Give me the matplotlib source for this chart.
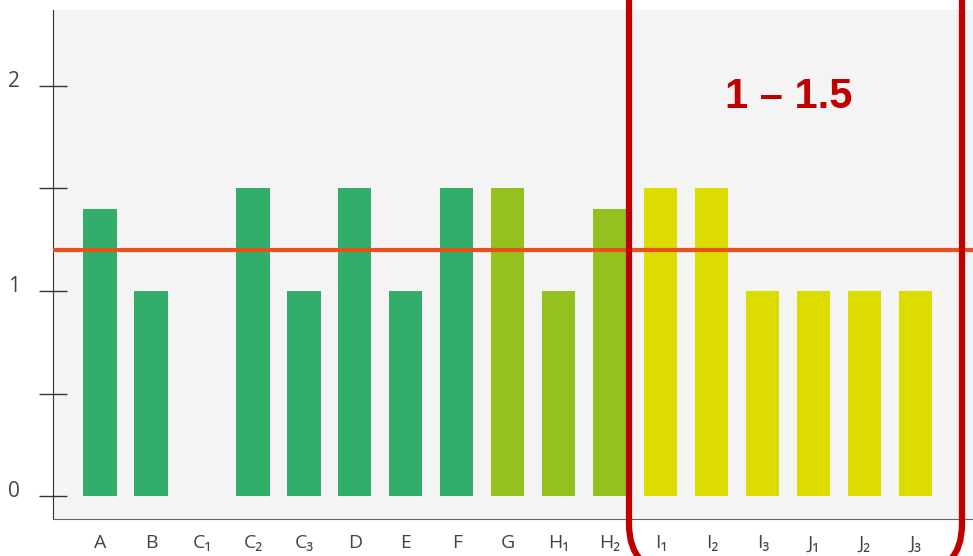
import matplotlib.pyplot as plt
from matplotlib.patches import FancyBboxPatch
from matplotlib.transforms import IdentityTransform, ScaledTranslation

labels = ['A', 'B', 'C₁', 'C₂', 'C₃', 'D', 'E', 'F', 'G', 'H₁', 'H₂',
          'I₁', 'I₂', 'I₃', 'J₁', 'J₂', 'J₃']
values = [1.4, 1.0, 0.0, 1.5, 1.0, 1.5, 1.0, 1.5, 1.5, 1.0, 1.4,
          1.5, 1.5, 1.0, 1.0, 1.0, 1.0]
groups = ['g', 'g', 'g', 'g', 'g', 'g', 'g', 'g', 'yg', 'yg', 'yg',
          'y', 'y', 'y', 'y', 'y', 'y']
group_colors = {'g': '#33ad6a', 'yg': '#95c11f', 'y': '#dcdc00'}
ref_level = 1.2
range_text = '1 – 1.5'

plt.rcParams['font.family'] = ['Open Sans', 'DejaVu Sans']

fig = plt.figure(figsize=(9.73, 5.56), dpi=100)
ax = fig.add_axes([0.0545, 0.0665, 0.9455, 0.9155])
ax.set_facecolor('#f4f4f4')

x = list(range(len(labels)))
ax.bar(x, values, width=0.65, color=[group_colors[g] for g in groups], zorder=2)
ax.axhline(ref_level, color='#e8501e', lw=3, zorder=3)

ax.set_xlim(-0.92, 17.12)
ax.set_ylim(-0.112, 2.37)
ax.set_xticks(x)
ax.set_xticklabels(labels, fontsize=14, color='#444444')
ax.tick_params(axis='x', length=0, pad=11)
ax.set_yticks([0, 0.5, 1, 1.5, 2])
ax.set_yticklabels(['0', '', '1', '', '2'], fontsize=15, color='#444444')
ax.tick_params(axis='y', direction='inout', length=20, width=1,
               color='#333333', pad=14)
# y labels sit a little above their ticks
for lab in ax.get_yticklabels():
    lab.set_transform(lab.get_transform() + ScaledTranslation(0, 0.07, fig.dpi_scale_trans))
for s in ['top', 'right']:
    ax.spines[s].set_visible(False)
ax.spines['left'].set_color('#333333')
ax.spines['bottom'].set_color('#666666')

# red highlight box (pixel coords)
box = FancyBboxPatch((629, -16), 333, 640, boxstyle='round,pad=0,rounding_size=48',
                     transform=IdentityTransform(), fill=False,
                     edgecolor='#c00000', lw=4.5, clip_on=False, zorder=5)
fig.add_artist(box)
fig.text(789 / 973, 1 - 97 / 556, range_text, ha='center', va='center',
         fontsize=30, fontweight='bold', color='#c00000',
         family='Liberation Sans')

fig.savefig('out.png', dpi=100)
